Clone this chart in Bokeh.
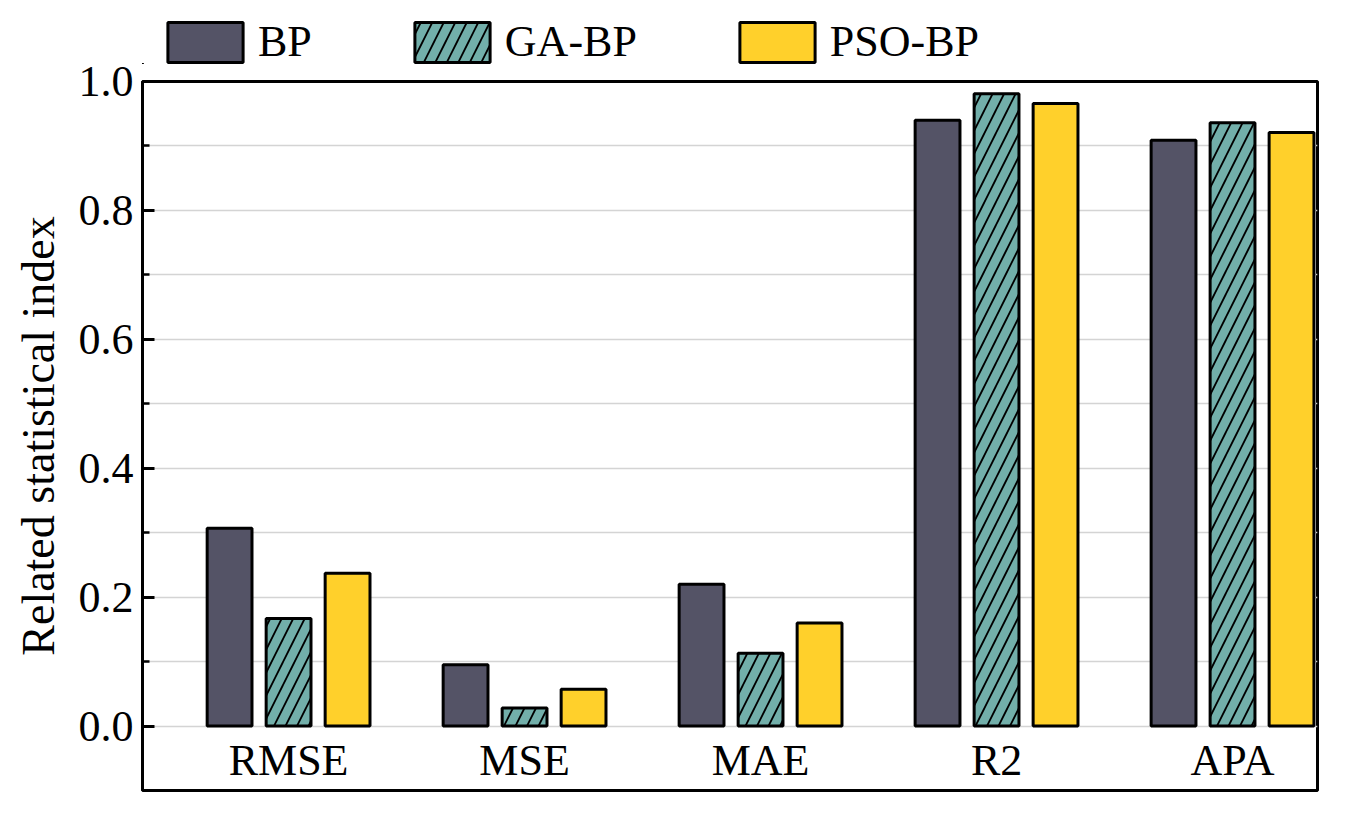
import numpy as np
from bokeh.plotting import figure
from bokeh.layouts import column
from bokeh.models import Range1d, FixedTicker, Legend, LegendItem
from bokeh.core.properties import value
from bokeh.embed import file_html
from bokeh.resources import INLINE

categories = ["RMSE", "MSE", "MAE", "R2", "APA"]
series_names = ["BP", "GA-BP", "PSO-BP"]
bp = [0.307, 0.095, 0.220, 0.940, 0.909]
ga_bp = [0.167, 0.028, 0.113, 0.981, 0.936]
pso_bp = [0.237, 0.057, 0.160, 0.966, 0.921]
y_ticks = [0.0, 0.2, 0.4, 0.6, 0.8, 1.0]
y_minor = [0.1, 0.3, 0.5, 0.7, 0.9]

colors = ["#545366", "#72AFAA", "#FFD02B"]
FONT = "Liberation Serif"
HATCH = dict(hatch_pattern="/", hatch_color="black", hatch_scale=23, hatch_weight=1.8)

# ---------------- main chart ----------------
p = figure(width=1346, height=755, output_backend="svg", toolbar_location=None,
           x_range=Range1d(0.381, 5.36), y_range=Range1d(-0.1, 1.0),
           min_border_left=142, min_border_right=29, min_border_top=17,
           min_border_bottom=29)
p.xaxis.visible = False
p.outline_line_color = "black"
p.outline_line_width = 3
p.background_fill_color = "white"
p.border_fill_color = "white"

p.xgrid.visible = False
p.ygrid.grid_line_color = "#d4d4d4"
p.ygrid.grid_line_width = 1.5
p.ygrid.minor_grid_line_color = "#d4d4d4"
p.ygrid.minor_grid_line_width = 1.5

ya = p.yaxis[0]
ya.ticker = FixedTicker(ticks=y_ticks, minor_ticks=y_minor)
ya.major_label_overrides = {t: f"{t:.1f}" for t in y_ticks}
ya.major_tick_in = 12
ya.major_tick_out = 0
ya.minor_tick_in = 7
ya.minor_tick_out = 0
ya.major_tick_line_width = 3
ya.minor_tick_line_width = 2.5
ya.axis_line_width = 3
ya.axis_line_color = "black"
ya.major_label_text_font = FONT
ya.major_label_text_font_size = "44px"
ya.major_label_text_color = "black"
ya.major_label_standoff = 9
ya.axis_label = "Related statistical index"
ya.axis_label_text_font = FONT
ya.axis_label_text_font_size = "46px"
ya.axis_label_text_font_style = "normal"
ya.axis_label_text_color = "black"
ya.axis_label_standoff = 12

base = np.arange(len(categories)) + 1.0
offsets = [-0.25, 0.0, 0.25]
all_vals = [bp, ga_bp, pso_bp]
for vals, off, col, name in zip(all_vals, offsets, colors, series_names):
    kw = HATCH if name == "GA-BP" else {}
    p.vbar(x=base + off, top=vals, bottom=0, width=0.19, fill_color=col,
           line_color="black", line_width=3, **kw)

p.text(x=base, y=[-0.053] * len(categories), text=categories,
       text_font=value(FONT), text_font_size="44px", text_color="black",
       text_align="center", text_baseline="middle")

# ---------------- legend strip on top ----------------
# the strip's ranges lie far away from the data, so its bars are never drawn;
# they only serve as the legend's glyph templates
lf = figure(width=1346, height=64, output_backend="svg", toolbar_location=None,
            x_range=Range1d(100, 101), y_range=Range1d(100, 101),
            x_axis_type=None, y_axis_type=None,
            min_border_left=142, min_border_right=29, min_border_top=0, min_border_bottom=0)
lf.outline_line_color = None
lf.xgrid.visible = False
lf.ygrid.visible = False
lf.background_fill_color = "white"
lf.border_fill_color = "white"
leg_renderers = []
for vals, off, col, name in zip(all_vals, offsets, colors, series_names):
    kw = HATCH if name == "GA-BP" else {}
    r = lf.vbar(x=base + off, top=vals, bottom=0, width=0.19, fill_color=col,
                line_color="black", line_width=3, **kw)
    leg_renderers.append(r)

legend = Legend(items=[LegendItem(label=n, renderers=[r]) for n, r in zip(series_names, leg_renderers)],
                orientation="horizontal", location=(16, -3),
                glyph_width=94, glyph_height=50, label_standoff=6, spacing=93,
                padding=0, margin=0, border_line_color=None, background_fill_alpha=0,
                label_text_font=FONT, label_text_font_size="44px", label_text_color="black")
lf.add_layout(legend)

layout = column(lf, p, spacing=0)
open("out.html", "w").write(file_html(layout, INLINE))
